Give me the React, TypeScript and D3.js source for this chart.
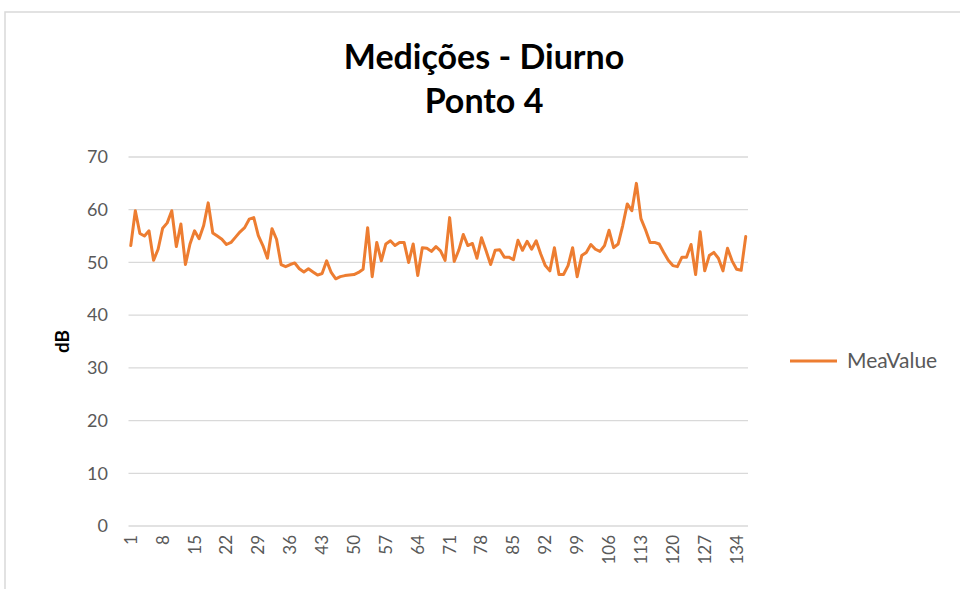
import React from "react";
import * as d3 from "d3";

const title = ["Medições - Diurno", "Ponto 4"];
const seriesName = "MeaValue";
const yLabel = "dB";
const yTicks = [0, 10, 20, 30, 40, 50, 60, 70];

// medições (dB), pontos 1..136
const meaValue = [
  53.2, 59.8, 55.5, 55, 56, 50.4, 52.5, 56.5, 57.5, 59.8,
  53, 57.3, 49.6, 53.5, 56, 54.5, 57, 61.3, 55.6, 55,
  54.4, 53.4, 53.8, 54.8, 55.8, 56.6, 58.2, 58.5, 55.1, 53.2,
  50.8, 56.4, 54.4, 49.6, 49.2, 49.6, 49.9, 48.8, 48.2, 48.8,
  48.2, 47.6, 47.9, 50.3, 48.1, 46.9, 47.3, 47.5, 47.6, 47.7,
  48.1, 48.7, 56.6, 47.3, 53.8, 50.3, 53.5, 54.1, 53.2, 53.8,
  53.8, 50, 53.5, 47.5, 52.8, 52.7, 52.1, 53, 52.2, 50.4,
  58.5, 50.2, 52.3, 55.3, 53.2, 53.6, 50.8, 54.7, 52.2, 49.6,
  52.3, 52.4, 51, 51, 50.5, 54.2, 52.3, 54, 52.5, 54.1,
  51.6, 49.4, 48.4, 52.8, 47.7, 47.7, 49.4, 52.8, 47.3, 51.3,
  51.9, 53.4, 52.5, 52.1, 53.2, 56.1, 52.8, 53.5, 57, 61.1,
  59.8, 65, 58.3, 56.2, 53.8, 53.8, 53.5, 51.9, 50.4, 49.4,
  49.2, 51, 51, 53.4, 47.7, 55.8, 48.4, 51.3, 51.9, 50.8,
  48.4, 52.7, 50.3, 48.7, 48.5, 54.9,
];
const categories = meaValue.map((_, i) => i + 1);
const xTickLabels = categories.filter((c) => (c - 1) % 7 === 0);

const W = 960;
const H = 589;
const plot = { left: 128.5, right: 748, top: 157, bottom: 526 };
const orange = "#ED7D31";
const grid = "#D9D9D9";
const tickColor = "#595959";
const font = "Lato, 'Open Sans', sans-serif";

export default function App() {
  const x = d3
    .scalePoint<number>()
    .domain(categories)
    .range([plot.left, plot.right])
    .padding(0.5);
  const y = d3.scaleLinear().domain([0, 70]).range([plot.bottom, plot.top]);

  const line = d3
    .line<number>()
    .x((_, i) => x(categories[i])!)
    .y((d) => y(d));

  return (
    <svg
      width={W}
      height={H}
      style={{ position: "absolute", left: 0, top: 0, background: "#fff" }}
    >
      <rect x={5} y={12} width={1000} height={700} fill="#fff" stroke={grid} strokeWidth={1.5} />

      <g fontFamily={font} fontWeight={700} fontSize={34} textAnchor="middle" fill="#000">
        <text x={484} y={69}>{title[0]}</text>
        <text x={484} y={113}>{title[1]}</text>
      </g>

      {yTicks.map((t) => (
        <g key={t}>
          <line x1={plot.left} x2={plot.right} y1={y(t)} y2={y(t)} stroke={grid} strokeWidth={1.3} />
          <text
            x={108}
            y={y(t)}
            dy="0.35em"
            textAnchor="end"
            fontFamily={font}
            fontSize={18}
            fill={tickColor}
          >
            {t}
          </text>
        </g>
      ))}

      {xTickLabels.map((c) => (
        <text
          key={c}
          transform={`translate(${x(c)},${plot.bottom + 9}) rotate(-90)`}
          textAnchor="end"
          dy="0.35em"
          fontFamily={font}
          fontSize={17}
          fill={tickColor}
        >
          {c}
        </text>
      ))}

      <text
        transform={`translate(62,${(plot.top + plot.bottom) / 2}) rotate(-90)`}
        textAnchor="middle"
        dy="0.35em"
        fontFamily={font}
        fontWeight={700}
        fontSize={19}
        fill="#000"
      >
        {yLabel}
      </text>

      <path
        d={line(meaValue)!}
        fill="none"
        stroke={orange}
        strokeWidth={3}
        strokeLinejoin="round"
        strokeLinecap="round"
      />

      <g>
        <line x1={790} x2={837} y1={361} y2={361} stroke={orange} strokeWidth={3} />
        <text x={847} y={361} dy="0.35em" fontFamily={font} fontSize={21} fill={tickColor}>
          {seriesName}
        </text>
      </g>
    </svg>
  );
}
